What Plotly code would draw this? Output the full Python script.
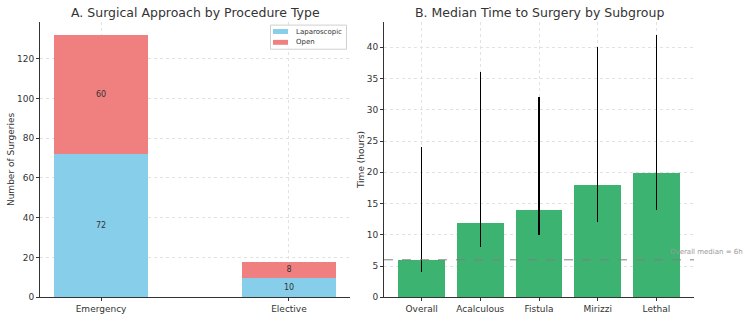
import plotly.graph_objects as go

# Panel A data
procedures = ["Emergency", "Elective"]
laparoscopic = [72, 10]
open_surg = [60, 8]
series_names = ["Laparoscopic", "Open"]
series_colors = ["#87CEEB", "#F08080"]

# Panel B data
subgroups = ["Overall", "Acalculous", "Fistula", "Mirizzi", "Lethal"]
median_time = [6, 12, 14, 18, 20]
lower_time = [4, 8, 10, 12, 14]
upper_time = [24, 36, 32, 40, 42]
overall_median = 6

FONT = "DejaVu Sans"
TXT = "#333333"

fig = go.Figure()

for vals, name, col in zip([laparoscopic, open_surg], series_names, series_colors):
    fig.add_trace(go.Bar(
        x=[0, 1], y=vals, name=name, marker_color=col,
        marker_line_width=0, width=0.5, text=[str(v) for v in vals],
        textposition="inside", insidetextanchor="middle", textangle=0,
        textfont=dict(size=8, color=TXT, family=FONT), constraintext="none",
        showlegend=False, xaxis="x", yaxis="y"))

fig.add_trace(go.Bar(
    x=list(range(len(subgroups))), y=median_time, marker_color="#3CB371",
    marker_line_width=0, width=0.8, showlegend=False,
    error_y=dict(type="data", symmetric=False,
                 array=[u - m for u, m in zip(upper_time, median_time)],
                 arrayminus=[m - l for m, l in zip(median_time, lower_time)],
                 width=0, thickness=1.4, color="black"),
    xaxis="x2", yaxis="y2"))

axis_common = dict(showline=True, linecolor="#333333", linewidth=1,
                   ticks="outside", ticklen=3, tickcolor="#333333",
                   tickfont=dict(size=9, color=TXT, family=FONT),
                   showgrid=True, gridcolor="#e2e2e2", griddash="dot",
                   gridwidth=1, zeroline=False, mirror=False)

# manual legend (paper-pixel helpers)
def px(x):
    return x / 750

def py(y):
    return 1 - y / 322

shapes = [dict(type="line", xref="x2 domain", yref="y2", x0=0, x1=1,
               y0=overall_median, y1=overall_median,
               line=dict(color="gray", width=1, dash="dash")),
          dict(type="rect", xref="paper", yref="paper", x0=px(270.5), x1=px(346.5),
               y0=py(50), y1=py(25.5), line=dict(color="#d0d0d0", width=1),
               fillcolor="rgba(255,255,255,0.8)", layer="above")]
legend_ann = []
for i, (name, col) in enumerate(zip(series_names, series_colors)):
    yc = 32 + i * 11
    shapes.append(dict(type="rect", xref="paper", yref="paper", x0=px(273), x1=px(288),
                       y0=py(yc + 2.5), y1=py(yc - 2.5), line=dict(width=0),
                       fillcolor=col, layer="above"))
    legend_ann.append(dict(text=name, xref="paper", yref="paper", x=px(294), y=py(yc),
                           xanchor="left", yanchor="middle", showarrow=False,
                           font=dict(size=7, color=TXT, family=FONT)))

ydom = [20 / 322, 300 / 322]
fig.update_layout(
    width=750, height=322, margin=dict(l=0, r=0, t=0, b=0),
    plot_bgcolor="white", paper_bgcolor="white", barmode="stack",
    font=dict(family=FONT, color=TXT), showlegend=False,
    xaxis=dict(domain=[40 / 750, 350 / 750], range=[-0.325, 1.325],
               tickvals=[0, 1], ticktext=procedures, **axis_common),
    yaxis=dict(domain=ydom, range=[0, 138.6], tickvals=list(range(0, 121, 20)),
               title=dict(text="Number of Surgeries", font=dict(size=9, color=TXT), standoff=0),
               **axis_common),
    xaxis2=dict(domain=[384 / 750, 694 / 750], range=[-0.64, 4.64],
                tickvals=list(range(len(subgroups))), ticktext=subgroups,
                anchor="y2", **axis_common),
    yaxis2=dict(domain=ydom, range=[0, 44.1], tickvals=list(range(0, 41, 5)),
                anchor="x2",
                title=dict(text="Time (hours)", font=dict(size=9, color=TXT), standoff=0),
                **axis_common),
    bargap=0,
    shapes=shapes,
    annotations=[
        dict(text="A. Surgical Approach by Procedure Type", xref="paper", yref="paper",
             x=195 / 750, y=1 - 13 / 322, xanchor="center", yanchor="middle",
             showarrow=False, font=dict(size=12.5, color=TXT, family=FONT)),
        dict(text="B. Median Time to Surgery by Subgroup", xref="paper", yref="paper",
             x=539 / 750, y=1 - 13 / 322, xanchor="center", yanchor="middle",
             showarrow=False, font=dict(size=12.5, color=TXT, family=FONT)),
        dict(text=f"Overall median = {overall_median}h", xref="x2", yref="y2",
             x=4.2, y=overall_median + 0.3, xanchor="left", yanchor="bottom",
             showarrow=False, font=dict(size=7, color="#999999", family=FONT)),
    ] + legend_ann,
)

fig.write_html("out.html")
